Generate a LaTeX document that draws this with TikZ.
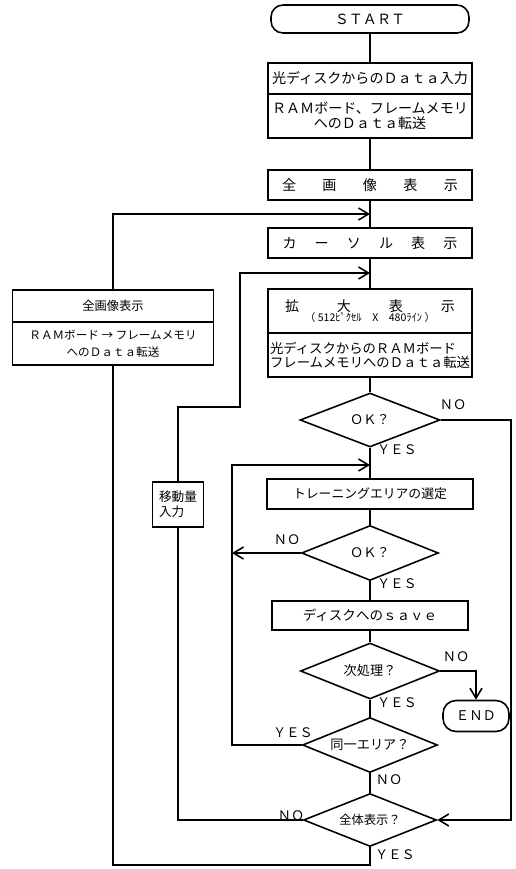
\documentclass[tikz,border=0pt]{standalone}
\usepackage{fontspec}
\setmainfont{Noto Sans CJK JP}
\usetikzlibrary{arrows.meta,shapes.geometric}

\tikzset{
  stepbox/.style={draw, line width=0.9pt, minimum width=4.08cm, inner sep=0pt, align=center, font=\fontsize{8}{8.6}\selectfont},
  termbox/.style={draw, line width=0.9pt, inner sep=0pt, font=\fontsize{8}{9}\selectfont},
  testbox/.style={draw, line width=0.9pt, diamond, aspect=2.5, inner sep=0pt, font=\fontsize{7.5}{9}\selectfont},
  flow/.style={line width=0.9pt},
  flowarr/.style={line width=0.9pt, -{Straight Barb[length=2mm,width=2.4mm]}},
  lbl/.style={inner sep=0pt, font=\fontsize{7.5}{9}\selectfont},
}

\begin{document}
\begin{tikzpicture}[x=0.02cm, y=-0.02cm]
  \useasboundingbox (0,0) rectangle (516,869);
  % main column
  \node[termbox, minimum width=3.96cm, minimum height=0.56cm, rounded corners=0.24cm] (start) at (370,19) {ＳＴＡＲＴ};
  \node[stepbox, minimum height=0.62cm] (inp) at (370,78.5) {光ディスクからのＤａｔａ入力};
  \node[stepbox, minimum height=0.88cm] (xfer) at (370,116) {ＲＡＭボード、フレームメモリ\\へのＤａｔａ転送};
  \node[stepbox, minimum height=0.6cm] (allimg) at (370,185) {\makebox[3.52cm][s]{全\hfill 画\hfill 像\hfill 表\hfill 示}};
  \node[stepbox, minimum height=0.6cm] (cursor) at (370,243) {\makebox[3.5cm][s]{カ\hfill ー\hfill ソ\hfill ル\hfill 表\hfill 示}};
  \node[stepbox, minimum height=0.88cm] (zoomhd) at (370,311) {\makebox[3.4cm][s]{拡\hfill 大\hfill 表\hfill 示}\\[-2.5pt]{\fontsize{6}{6}\selectfont （ 512ﾋﾟｸｾﾙ　X　480ﾗｲﾝ ）}};
  \node[stepbox, minimum height=0.88cm, align=left, font=\fontsize{7.6}{8}\selectfont] (zoomxf) at (370,355) {光ディスクからのＲＡＭボード\\フレームメモリへのＤａｔａ転送};
  \node[testbox, minimum width=2.8cm, minimum height=1.08cm] (ok1) at (370,420) {ＯＫ？};
  \node[stepbox, minimum width=4.12cm, minimum height=0.6cm, font=\fontsize{7.3}{9}\selectfont] (train) at (370,494) {トレーニングエリアの選定};
  \node[testbox, minimum width=2.74cm, minimum height=1.1cm] (ok2) at (370,553) {ＯＫ？};
  \node[stepbox, minimum width=3.92cm, minimum height=0.58cm, font=\fontsize{7.7}{9}\selectfont] (save) at (370,615.5) {ディスクへのｓａｖｅ};
  \node[testbox, minimum width=2.78cm, minimum height=1.12cm] (nextq) at (370,671) {次処理？};
  \node[testbox, minimum width=2.7cm, minimum height=1.1cm] (same) at (370,745) {同一エリア？};
  \node[testbox, minimum width=2.66cm, minimum height=1.06cm, font=\fontsize{7}{9}\selectfont] (whole) at (370,820) {全体表示？};
  \node[termbox, minimum width=1.32cm, minimum height=0.62cm, rounded corners=0.26cm, font=\fontsize{7.6}{9}\selectfont] (endn) at (476,716) {ＥＮＤ};
  % side boxes
  \node[stepbox, minimum width=4.02cm, minimum height=0.64cm, font=\fontsize{7}{9}\selectfont] (lallhd) at (113,306) {全画像表示};
  \node[stepbox, minimum width=4.02cm, minimum height=0.86cm, font=\fontsize{6.6}{10}\selectfont] (lallxf) at (113,343.5) {ＲＡＭボード → フレームメモリ\\へのＤａｔａ転送};
  \node[stepbox, minimum width=1.02cm, minimum height=0.9cm, align=left, font=\fontsize{7.2}{8.5}\selectfont] (move) at (178,504.5) {移動量\\入力};
  % corners of the loops
  \coordinate (j1) at (370,214);
  \coordinate (j2) at (370,273);
  \coordinate (j3) at (370,465);
  \coordinate (c2) at (240,407);
  \coordinate (c3) at (232,465);
  \coordinate (rr) at (511,420);
  \coordinate (b1) at (370,865);
  % connectors
  \foreach \a/\b in {start/inp, xfer/allimg, allimg/cursor, cursor/zoomhd, zoomxf/ok1, ok1/train, train/ok2, ok2/save, save/nextq, nextq/same, same/whole}
    \draw[flow] (\a) -- (\b);
  \draw[flowarr] (lallhd.north) |- (j1);
  \draw[flow] (whole.south) -- (b1) -| (lallxf.south);
  \draw[flow] (whole.west) -| (move.south);
  \draw[flowarr] (move.north) |- (c2) |- (j2);
  \draw[flowarr] (same.west) -| (c3) -- (j3);
  \draw[flowarr] (ok2.west) -- (ok2.west -| c3);
  \draw[flowarr] (ok1.east) -- (rr) |- (whole.east);
  \draw[flowarr] (nextq.east) -| (endn.north);
  % branch labels
  \node[lbl] (ok1no) at (453,405) {ＮＯ};
  \node[lbl] (ok1yes) at (397,450) {ＹＥＳ};
  \node[lbl] (ok2no) at (287,540) {ＮＯ};
  \node[lbl] (ok2yes) at (397,584) {ＹＥＳ};
  \node[lbl] (nextno) at (456,657) {ＮＯ};
  \node[lbl] (nextyes) at (397,703) {ＹＥＳ};
  \node[lbl] (sameyes) at (293,733) {ＹＥＳ};
  \node[lbl] (sameno) at (389,780) {ＮＯ};
  \node[lbl] (wholeno) at (291,816) {ＮＯ};
  \node[lbl] (wholeyes) at (395,855) {ＹＥＳ};
\end{tikzpicture}
\end{document}
